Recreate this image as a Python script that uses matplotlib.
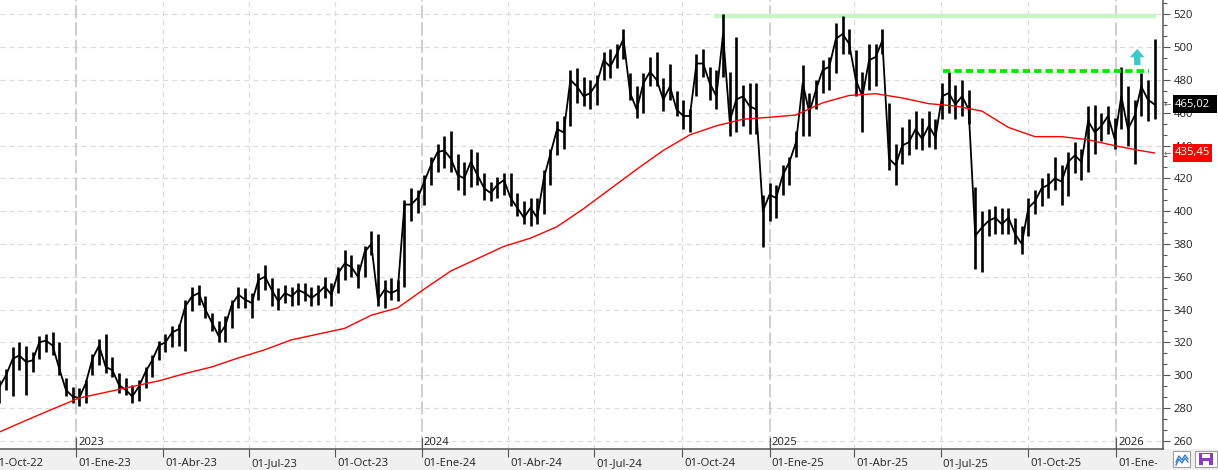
import numpy as np
import pandas as pd
import matplotlib
matplotlib.use("Agg")
import matplotlib.pyplot as plt
from matplotlib.patches import Rectangle, Polygon
from matplotlib.transforms import Bbox, TransformedBbox, blended_transform_factory

plt.rcParams["font.family"] = ["Open Sans", "DejaVu Sans"]
plt.rcParams["lines.scale_dashes"] = False

# =========================
# DATOS (barras semanales)
# =========================

weeks = pd.date_range("2022-10-10", "2026-02-09", freq="W-MON")

high = [
    297, 304, 317, 320, 318, 314, 324, 325, 326, 320, 298, 293,
    292, 297, 313, 322, 325, 311, 301, 298, 294, 297, 305, 312,
    321, 325, 330, 331, 346, 354, 355, 348, 338, 333, 336, 346,
    354, 353, 350, 362, 367, 359, 353, 355, 354, 356, 356, 354,
    355, 360, 356, 366, 376, 373, 368, 379, 388, 386, 358, 359,
    358, 407, 414, 413, 422, 433, 441, 446, 449, 435, 430, 438,
    436, 423, 418, 421, 423, 423, 411, 406, 408, 408, 425, 438,
    455, 458, 486, 487, 482, 480, 483, 497, 499, 502, 511, 484,
    476, 484, 494, 497, 481, 490, 473, 468, 462, 496, 499, 488,
    486, 520, 485, 506, 477, 478, 478, 410, 417, 416, 428, 433,
    449, 489, 472, 480, 492, 494, 515, 519, 511, 498, 485, 502,
    502, 511, 466, 441, 451, 456, 461, 457, 461, 456, 478, 485,
    477, 480, 474, 415, 400, 401, 403, 402, 402, 396, 391, 408,
    413, 420, 423, 433, 428, 436, 442, 438, 464, 465, 460, 464,
    457, 488, 476, 468, 484, 480, 505,
]
low = [
    283, 291, 287, 303, 288, 302, 310, 314, 312, 300, 287, 283,
    281, 283, 300, 306, 301, 299, 289, 288, 283, 284, 292, 299,
    309, 314, 317, 318, 315, 339, 343, 335, 327, 320, 320, 329,
    341, 341, 335, 346, 352, 342, 340, 344, 342, 343, 345, 342,
    343, 347, 342, 350, 358, 360, 353, 360, 373, 342, 341, 346,
    345, 354, 394, 399, 404, 416, 424, 426, 424, 413, 410, 415,
    416, 407, 406, 408, 410, 403, 397, 392, 391, 392, 398, 416,
    434, 438, 452, 466, 464, 462, 465, 480, 481, 487, 493, 468,
    457, 460, 476, 476, 461, 468, 458, 450, 448, 470, 482, 468,
    462, 482, 446, 448, 452, 447, 447, 378, 394, 396, 410, 416,
    433, 446, 446, 462, 472, 474, 484, 496, 496, 470, 448, 474,
    476, 496, 425, 416, 429, 434, 438, 437, 439, 438, 456, 460,
    456, 458, 453, 365, 363, 385, 386, 386, 386, 380, 374, 385,
    398, 403, 408, 413, 404, 409, 423, 419, 424, 435, 443, 447,
    438, 450, 440, 429, 458, 455, 456,
]
close = [
    293, 300, 310, 312, 308, 309, 320, 321, 318, 304, 291, 287,
    286, 295, 310, 318, 305, 303, 294, 291, 287, 293, 302, 309,
    318, 320, 326, 328, 342, 348, 350, 340, 332, 324, 330, 343,
    349, 346, 344, 358, 360, 352, 345, 350, 348, 352, 350, 347,
    350, 354, 349, 362, 368, 366, 360, 375, 380, 346, 352, 350,
    352, 404, 404, 408, 418, 428, 436, 437, 432, 422, 420, 430,
    422, 414, 411, 416, 419, 408, 402, 396, 402, 396, 420, 435,
    450, 448, 480, 476, 470, 472, 478, 492, 488, 496, 505, 472,
    462, 478, 485, 480, 468, 476, 462, 458, 458, 490, 490, 478,
    470, 508, 455, 468, 470, 464, 462, 400, 410, 408, 422, 430,
    442, 478, 460, 474, 486, 488, 505, 508, 502, 480, 470, 492,
    494, 504, 432, 428, 440, 442, 450, 444, 452, 445, 470, 472,
    465, 470, 462, 385, 390, 394, 396, 392, 396, 386, 380, 402,
    406, 414, 416, 420, 418, 430, 434, 430, 455, 448, 452, 458,
    444, 470, 450, 458, 476, 468, 465.02,
]

# media movil (una lectura cada 4 semanas + la ultima)
ma = [
    265.3, 272.4, 279.3, 286.0, 289.5, 293.0, 296.5, 301.0, 305.0, 310.5,
    315.5, 321.5, 325.0, 328.5, 336.5, 341.0, 352.5, 363.5, 371.0, 378.5,
    383.5, 390.5, 401.5, 413.5, 425.5, 437.0, 446.5, 452.0, 456.0, 457.2,
    458.6, 466.0, 470.5, 471.6, 469.0, 465.5, 464.1, 461.0, 451.0, 445.4,
    445.4, 443.5, 439.9, 436.8, 435.45,
]

tick_dates = ["2022-10-03", "2023-01-02", "2023-04-03", "2023-07-03", "2023-10-02",
              "2024-01-01", "2024-04-01", "2024-07-01", "2024-10-01", "2025-01-01",
              "2025-04-01", "2025-07-01", "2025-10-01", "2026-01-01"]
tick_labels = ["01-Oct-22", "01-Ene-23", "01-Abr-23", "01-Jul-23", "01-Oct-23",
               "01-Ene-24", "01-Abr-24", "01-Jul-24", "01-Oct-24", "01-Ene-25",
               "01-Abr-25", "01-Jul-25", "01-Oct-25", "01-Ene-26"]
years = {"2023-01-02": "2023", "2024-01-01": "2024", "2025-01-01": "2025", "2026-01-01": "2026"}

resistance_top = 518.8
resistance_mid = 485.3
last_price = 465.02
last_ma = 435.45

# =========================
# ESCALA (dias habiles desde 02-Ene-23)
# =========================

REF = np.datetime64("2023-01-02")
PX_DAY = 1.3276
ORIGIN_PX = 76.5
YLIM = (254.94, 528.72)


def bday(d):
    return np.busday_count(REF, np.asarray(d, dtype="datetime64[D]"))


def price_to_px(p):
    return (YLIM[1] - p) / (YLIM[1] - YLIM[0]) * 449


x = bday(weeks.values) + 2
x_ma = np.append(x[::4], x[-1])

fig = plt.figure(figsize=(12.18, 4.70), dpi=100)
fig.patches.append(Rectangle((0, 0), 1, 21 / 470, transform=fig.transFigure,
                             facecolor="#f0f0f0", edgecolor="none", zorder=-1))
ax = fig.add_axes([0, 21 / 470, 1163 / 1218, 449 / 470])

# grid
for v in range(260, 521, 20):
    ax.axhline(v, color="#dadada", lw=0.8, ls=(0, (3.6, 2.9)), zorder=0)
xt = bday(tick_dates)
for d, xv in zip(tick_dates, xt):
    if d in years:
        ax.axvline(xv, color="#c6c6c6", lw=1.2, ls=(0, (9.5, 2.9)), zorder=0)
    else:
        ax.axvline(xv, color="#dadada", lw=0.8, ls=(0, (3.6, 2.9)), zorder=0)

# precio
ax.vlines(x, low, high, color="black", lw=1.9, zorder=3)
ax.plot(x, close, color="black", lw=1.3, zorder=3)

# media movil
ax.plot(x_ma, ma, color="#ff0000", lw=1.0, zorder=4)

# lineas de resistencia
ax.plot([bday("2024-11-04"), bday("2026-02-12")], [resistance_top] * 2, color="#c8f5c8", lw=3.2,
        zorder=2, solid_capstyle="butt")
ax.plot([bday("2025-07-03"), bday("2026-02-05")], [resistance_mid] * 2, color="#00e800", lw=2.7,
        ls=(0, (5.3, 2.9)), zorder=5)

# flecha
xc = bday("2026-01-23")
ax.add_patch(Polygon([[xc - 2.4, 489.1], [xc - 2.4, 493.8], [xc - 5.6, 493.8], [xc, 498.9],
                      [xc + 5.6, 493.8], [xc + 2.4, 493.8], [xc + 2.4, 489.1]],
                     closed=True, facecolor="#3cc8c8", edgecolor="none", zorder=6))

# ejes
for s in ["top", "left"]:
    ax.spines[s].set_visible(False)
for s in ["bottom", "right"]:
    ax.spines[s].set_color("#555555")
    ax.spines[s].set_linewidth(1.1)

ax.yaxis.tick_right()
ax.set_yticks(range(260, 521, 20))
ax.set_yticks(np.arange(260, 528, 20 / 3), minor=True)
ax.tick_params(axis="y", which="major", length=5, width=0.8, color="#555555",
               labelsize=8.1, labelcolor="#222222", pad=2.5)
ax.tick_params(axis="y", which="minor", length=3, width=0.8, color="#555555")

ax.set_xticks(xt)
ax.set_xticklabels([])
ax.tick_params(axis="x", which="major", length=6, width=0.8, color="#555555")

ax.set_xlim(-ORIGIN_PX / PX_DAY, (1163 - ORIGIN_PX) / PX_DAY)
ax.set_ylim(*YLIM)

clip = TransformedBbox(Bbox([[0, 0], [1157 / 1218, 1]]), fig.transFigure)
bt = blended_transform_factory(ax.transData, ax.transAxes)
for xv, lab in zip(xt, tick_labels):
    t = ax.annotate(lab, xy=(xv, 0), xycoords=bt, xytext=(1.5, -12.0), textcoords="offset points",
                    ha="left", va="baseline", fontsize=8.1, color="#222222", annotation_clip=False)
    t.set_clip_box(clip)
for d, yr in years.items():
    xv = bday(d)
    ax.plot([xv, xv], [0, 11 / 449], transform=bt, color="#555555", lw=0.8, clip_on=False, zorder=5)
    ax.annotate(yr, xy=(xv, 0), xycoords=bt, xytext=(1.5, 2.9), textcoords="offset points",
                ha="left", va="baseline", fontsize=8.1, color="#222222")


# etiquetas de precio
def px_rect(x0, y0, x1, y1, **kw):
    fig.patches.append(Rectangle((x0 / 1218, 1 - y1 / 470), (x1 - x0) / 1218, (y1 - y0) / 470,
                                 transform=fig.transFigure, **kw))


for val, fc, right in [(last_price, "black", 1217), (last_ma, "#ff0000", 1212)]:
    yc = price_to_px(val)
    px_rect(1173, yc - 9, right, yc + 9, facecolor=fc, edgecolor="none", zorder=5)
    fig.text(1175 / 1218, 1 - yc / 470, f"{val:.2f}".replace(".", ","), ha="left", va="center",
             fontsize=8.1, color="white", zorder=6)
    fig.text(1164 / 1218, 1 - yc / 470, "\u2190", ha="left", va="center", fontsize=6.5,
             color="#666666", family="DejaVu Sans", zorder=6)

# iconos abajo a la derecha
px_rect(1173, 451, 1190, 467, facecolor="white", edgecolor="#a0a0a0", lw=0.8)
fig.lines.append(plt.Line2D(np.array([1176, 1179, 1182, 1185, 1188]) / 1218,
                            1 - np.array([462, 456, 460, 455, 459]) / 470,
                            transform=fig.transFigure, color="#3a7fd0", lw=1.0))
fig.lines.append(plt.Line2D(np.array([1176, 1179, 1182, 1185, 1188]) / 1218,
                            1 - np.array([465, 459, 463, 458, 462]) / 470,
                            transform=fig.transFigure, color="#3a7fd0", lw=1.0))
px_rect(1195, 451, 1217, 467, facecolor="white", edgecolor="#a0a0a0", lw=0.8)
px_rect(1199, 453, 1213, 465, facecolor="#8a3cc8", edgecolor="none")
px_rect(1202, 454, 1210, 458, facecolor="white", edgecolor="none")
px_rect(1203, 461, 1209, 465, facecolor="white", edgecolor="none")

fig.savefig("out.png", dpi=100)
